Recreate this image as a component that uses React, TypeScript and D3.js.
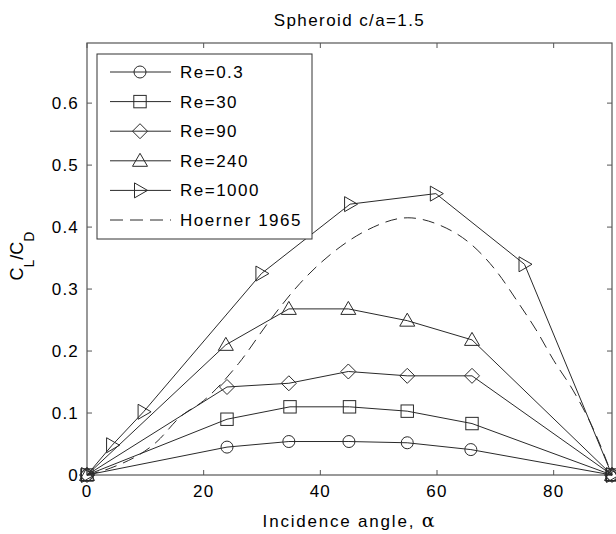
import React from "react";
import * as d3 from "d3";

const xRe03 = [0, 24, 34.6, 44.9, 54.9, 65.8, 90];
const yRe03 = [0, 0.045, 0.054, 0.054, 0.052, 0.041, 0];
const xRe30 = [0, 24, 34.8, 45, 54.9, 66, 90];
const yRe30 = [0, 0.09, 0.11, 0.11, 0.103, 0.083, 0];
const xRe90 = [0, 24, 34.6, 44.8, 54.9, 66, 90];
const yRe90 = [0, 0.142, 0.148, 0.167, 0.16, 0.16, 0];
const xRe240 = [0, 23.8, 34.6, 44.8, 54.9, 66, 90];
const yRe240 = [0, 0.21, 0.268, 0.268, 0.249, 0.218, 0];
const xRe1000 = [0, 4.3, 9.7, 29.9, 45.1, 59.8, 75, 90];
const yRe1000 = [0, 0.048, 0.102, 0.325, 0.437, 0.454, 0.34, 0];
const xHoerner = [0, 4, 12, 16, 20, 26, 31, 36.5, 43.4, 48, 55, 60.5, 66, 70, 74, 77, 80, 83.3, 87, 90];
const yHoerner = [0, 0.011, 0.054, 0.094, 0.12, 0.18, 0.245, 0.309, 0.368, 0.395, 0.415, 0.403, 0.371, 0.331, 0.277, 0.234, 0.185, 0.137, 0.07, 0];

const legendLabels = ["Re=0.3", "Re=30", "Re=90", "Re=240", "Re=1000", "Hoerner 1965"];
const xTicks = [0, 20, 40, 60, 80];
const yTicks = [0, 0.1, 0.2, 0.3, 0.4, 0.5, 0.6];
const yTickLabels = ["0", "0.1", "0.2", "0.3", "0.4", "0.5", "0.6"];

type MarkerKind = "circle" | "square" | "diamond" | "triangle" | "right";

const series: { xs: number[]; ys: number[]; marker: MarkerKind }[] = [
  { xs: xRe03, ys: yRe03, marker: "circle" },
  { xs: xRe30, ys: yRe30, marker: "square" },
  { xs: xRe90, ys: yRe90, marker: "diamond" },
  { xs: xRe240, ys: yRe240, marker: "triangle" },
  { xs: xRe1000, ys: yRe1000, marker: "right" },
];

const LINE = "#2a2a2a";

function Marker({ kind, x, y }: { kind: MarkerKind; x: number; y: number }) {
  const s = 6.2;
  const common = { fill: "none", stroke: LINE, strokeWidth: 1 };
  if (kind === "circle") return <circle cx={x} cy={y} r={6} {...common} />;
  if (kind === "square") return <rect x={x - s} y={y - s} width={2 * s} height={2 * s} {...common} />;
  if (kind === "diamond")
    return <path d={`M${x},${y - 7.5}L${x + 7.5},${y}L${x},${y + 7.5}L${x - 7.5},${y}Z`} {...common} />;
  if (kind === "triangle")
    return <path d={`M${x},${y - 7.5}L${x + 7.5},${y + 5.5}L${x - 7.5},${y + 5.5}Z`} {...common} />;
  return <path d={`M${x + 7.5},${y}L${x - 5.5},${y - 7.5}L${x - 5.5},${y + 7.5}Z`} {...common} />;
}

export default function App() {
  const W = 616, H = 534;
  const left = 87, right = 612, top = 43, bottom = 475;
  const x = d3.scaleLinear().domain([0, 90]).range([left, right]);
  const y = d3.scaleLinear().domain([0, 0.697]).range([bottom, top]);
  const mk = (xs: number[], ys: number[]) =>
    d3.line<number>().x((d) => x(d)).y((_, i) => y(ys[i]))(xs) as string;
  const hoernerPath = d3
    .line<number>()
    .x((d) => x(d))
    .y((_, i) => y(yHoerner[i]))
    .curve(d3.curveMonotoneX)(xHoerner) as string;

  const font = "Arial, 'Liberation Sans', sans-serif";
  const lgX = 97, lgY = 54, lgW = 215, lgH = 185;

  return (
    <svg width={W} height={H} style={{ position: "absolute", left: 0, top: 0, background: "#fff" }} fontFamily={font}>
      <rect x={0} y={0} width={W} height={H} fill="#fff" />
      <text x={(left + right) / 2} y={26} textAnchor="middle" fontSize={17} letterSpacing={1.4}>Spheroid c/a=1.5</text>
      {/* axes box */}
      <rect x={left} y={top} width={right - left} height={bottom - top} fill="none" stroke="#555" strokeWidth={1.2} />
      {xTicks.map((t) => (
        <g key={"xt" + t}>
          <line x1={x(t)} x2={x(t)} y1={bottom} y2={bottom - 5} stroke="#555" />
          <line x1={x(t)} x2={x(t)} y1={top} y2={top + 5} stroke="#555" />
          <text x={x(t)} y={497} textAnchor="middle" fontSize={17} letterSpacing={1.2}>{t}</text>
        </g>
      ))}
      {yTicks.map((t, i) => (
        <g key={"yt" + t}>
          <line x1={left} x2={left + 5} y1={y(t)} y2={y(t)} stroke="#555" />
          <line x1={right} x2={right - 5} y1={y(t)} y2={y(t)} stroke="#555" />
          <text x={79} y={y(t) + 6} textAnchor="end" fontSize={17} letterSpacing={1.2}>{yTickLabels[i]}</text>
        </g>
      ))}
      <text x={(left + right) / 2} y={527} textAnchor="middle" fontSize={17} letterSpacing={1.8}>
        Incidence angle, <tspan fontFamily="'DejaVu Serif', serif" fontSize={19}>α</tspan>
      </text>
      <text transform={`translate(23, ${(top + bottom) / 2 - 3}) rotate(-90)`} textAnchor="middle" fontSize={18}>
        C<tspan fontSize={14} dy={11}>L</tspan>
        <tspan dy={-11}>/C</tspan>
        <tspan fontSize={14} dy={11}>D</tspan>
      </text>
      {/* data */}
      <path d={hoernerPath} fill="none" stroke={LINE} strokeWidth={1} strokeDasharray="12,7" />
      {series.map((s, si) => (
        <g key={"s" + si}>
          <path d={mk(s.xs, s.ys)} fill="none" stroke={LINE} strokeWidth={1} />
          {s.xs.map((xv, i) => (
            <Marker key={i} kind={s.marker} x={x(xv)} y={y(s.ys[i])} />
          ))}
        </g>
      ))}
      {/* legend */}
      <rect x={lgX} y={lgY} width={lgW} height={lgH} fill="#fff" stroke="#333" strokeWidth={1} />
      {legendLabels.map((lab, i) => {
        const cy = 72 + i * 29.6;
        return (
          <g key={"lg" + i}>
            <line x1={110} x2={171} y1={cy} y2={cy} stroke={LINE} strokeWidth={1} strokeDasharray={i === 5 ? "13,7" : undefined} />
            {i < 5 && <Marker kind={series[i].marker} x={140} y={cy} />}
            <text x={180} y={cy + 6} fontSize={17} letterSpacing={1.5}>{lab}</text>
          </g>
        );
      })}
    </svg>
  );
}
